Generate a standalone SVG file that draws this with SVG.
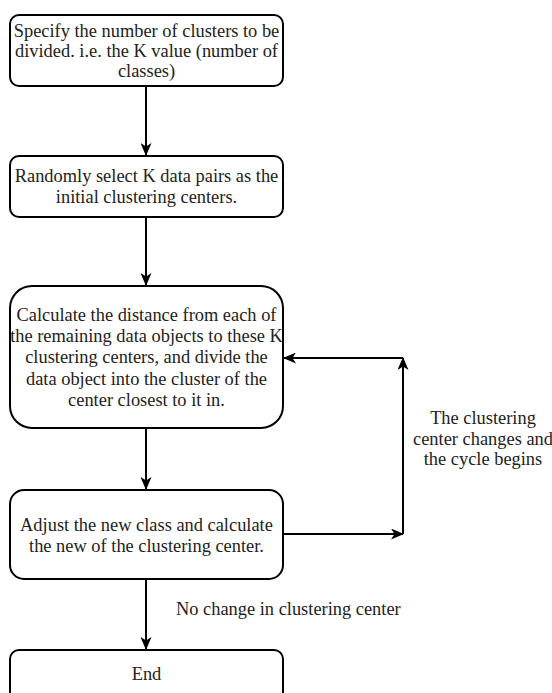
<svg xmlns="http://www.w3.org/2000/svg" width="552" height="693" viewBox="0 0 552 693">
<defs>
<marker id="arr" viewBox="0 0 13 11" refX="12" refY="5.5" markerWidth="13" markerHeight="11" markerUnits="userSpaceOnUse" orient="auto">
<path d="M0,0 L13,5.5 L0,11 L3.5,5.5 Z" fill="#000"/>
</marker>
<style>
.box{fill:#fff;stroke:#000;stroke-width:2}
.t{font-family:"Liberation Serif","Times New Roman",serif;font-size:18.4px;fill:#222;text-anchor:middle}
.l{font-family:"Liberation Serif","Times New Roman",serif;font-size:18.4px;fill:#222}
.c{fill:none;stroke:#000;stroke-width:2;marker-end:url(#arr)}
</style>
</defs>
<rect width="552" height="693" fill="#fff"/>
<g id="connectors">
<path class="c" d="M146,86 L146,155"/>
<path class="c" d="M146,217 L146,285"/>
<path class="c" d="M146,428 L146,489"/>
<path class="c" d="M283,534 L403,534"/>
<path class="c" d="M403,534 L403,358"/>
<path class="c" d="M403,358 L284,358"/>
<path class="c" d="M146,579 L146,649"/>
<text class="l" x="176" y="615">No change in clustering center</text>
<text class="t" x="483" y="424">The clustering</text>
<text class="t" x="483" y="445">center changes and</text>
<text class="t" x="483" y="465">the cycle begins</text>
</g>
<g id="n1">
<rect class="box" x="10" y="15" width="273" height="71" rx="9"/>
<text class="t" x="146.5" y="37">Specify the number of clusters to be</text>
<text class="t" x="146.5" y="57">divided. i.e. the K value (number of</text>
<text class="t" x="146.5" y="77">classes)</text>
</g>
<g id="n2">
<rect class="box" x="10" y="156" width="273" height="61" rx="9"/>
<text class="t" x="146.5" y="182">Randomly select K data pairs as the</text>
<text class="t" x="146.5" y="203">initial clustering centers.</text>
</g>
<g id="n3">
<rect class="box" x="10" y="286" width="273" height="142" rx="22"/>
<text class="t" x="146.5" y="321">Calculate the distance from each of</text>
<text class="t" x="146.5" y="342">the remaining data objects to these K</text>
<text class="t" x="146.5" y="363">clustering centers, and divide the</text>
<text class="t" x="146.5" y="385">data object into the cluster of the</text>
<text class="t" x="146.5" y="406">center closest to it in.</text>
</g>
<g id="n4">
<rect class="box" x="10" y="490" width="273" height="89" rx="14"/>
<text class="t" x="146.5" y="531">Adjust the new class and calculate</text>
<text class="t" x="146.5" y="552">the new of the clustering center.</text>
</g>
<g id="n5">
<rect class="box" x="10" y="650" width="273" height="60" rx="9"/>
<text class="t" x="146.5" y="680">End</text>
</g>
</svg>
